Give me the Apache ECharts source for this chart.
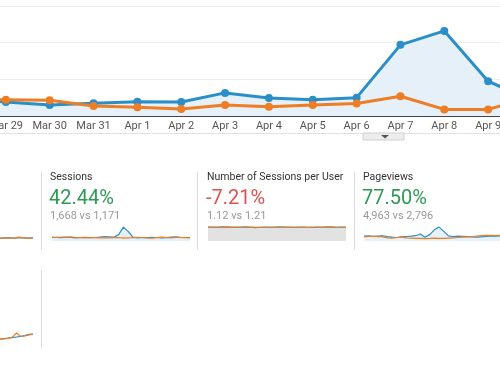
<!DOCTYPE html>
<html><head><meta charset="utf-8">
<script src="https://cdn.jsdelivr.net/npm/echarts@6/dist/echarts.min.js"></script>
<style>html,body{margin:0;padding:0;background:#fff}#c{width:500px;height:383px}</style>
</head><body><div id="c"></div>
<script>
// Main chart
const days = ['Mar 28','Mar 29','Mar 30','Mar 31','Apr 1','Apr 2','Apr 3','Apr 4','Apr 5','Apr 6','Apr 7','Apr 8','Apr 9','Apr 10'];
const currentSeries = [49,38,30,35,39,38,63,49,44,50,194,232,95,41];
const previousSeries = [44,44,43,27,24,19,30,25,30,34,54,18,18,52];

// Scorecards
const cardTitles = ['Sessions','Number of Sessions per User','Pageviews'];
const cardChanges = ['42.44%','-7.21%','77.50%'];
const cardCompare = ['1,668 vs 1,171','1.12 vs 1.21','4,963 vs 2,796'];

// Sparklines
const sessBlue = [22,23,21,24,22,20,22,23,21,22,24,28,26,24,40,87,60,24,20,22,21,23,22,20,21,24,26,23,22,22];
const sessOrange = [24,22,25,23,26,22,21,20,22,21,20,19,20,21,22,18,20,21,23,22,19,18,21,24,22,20,23,22,21,20];
const spuBlue = [86,87,85,88,87,86,85,87,88,86,84,86,87,85,86,88,87,86,85,86,87,86,85,87,86,88,87,86,87,86];
const spuOrange = [88,86,87,86,88,87,87,86,86,87,86,85,86,86,87,86,86,87,86,87,86,85,86,86,87,86,88,86,86,87];
const pvBlue = [30,32,28,31,33,27,24,22,26,28,30,33,44,24,40,70,87,60,32,28,30,29,27,25,24,26,28,30,31,32];
const pvOrange = [26,28,30,27,25,20,18,22,24,20,18,16,17,15,16,18,17,16,18,20,22,24,26,28,30,33,35,36,34,35];
const c1Blue = [18,20,19,18,20,19,18,21];
const c1Orange = [16,18,20,17,24,19,16,19];
const lowBlue = [15,17,20,22,25,28,32,38,40];
const lowOrange = [14,16,18,24,45,28,30,36,38];

const BLUE = '#2a8fc8', ORANGE = '#ee7d23';
const FONT = 'Roboto, Arial, sans-serif';

const grids = [], xAxes = [], yAxes = [], series = [];
function addSpark(idx, box, blue, orange, blueArea) {
  grids.push({left: box[0], top: box[1], width: box[2], height: box[3], outerBoundsMode: 'none'});
  const cats = blue.map((_, i) => i);
  xAxes.push({type: 'category', gridIndex: idx, data: cats, boundaryGap: false, show: false});
  yAxes.push({type: 'value', gridIndex: idx, min: 0, max: 100, show: false});
  series.push({type: 'line', xAxisIndex: idx, yAxisIndex: idx, data: orange, symbol: 'none', lineStyle: {color: ORANGE, width: 1.2}, z: 3, silent: true});
  series.push({type: 'line', xAxisIndex: idx, yAxisIndex: idx, data: blue, symbol: 'none', lineStyle: {color: BLUE, width: 1.2}, areaStyle: {color: blueArea, opacity: 1}, z: 2, silent: true});
}

// main grid
grids.push({left: -38, right: -32, top: 6, bottom: 267, outerBoundsMode: 'none', containLabel: false});
xAxes.push({type: 'category', gridIndex: 0, data: days, boundaryGap: false,
  axisLine: {lineStyle: {color: '#444', width: 1}}, axisTick: {show: false},
  axisLabel: {color: '#555', fontSize: 11, fontFamily: FONT, margin: 5, interval: 0, hideOverlap: false}});
yAxes.push({type: 'value', gridIndex: 0, min: 0, max: 300, interval: 100,
  axisLabel: {show: false}, axisLine: {show: false}, axisTick: {show: false},
  splitLine: {lineStyle: {color: '#ececec'}}});
series.push({type: 'line', xAxisIndex: 0, yAxisIndex: 0, data: currentSeries, symbol: 'circle', symbolSize: 8,
  itemStyle: {color: BLUE}, lineStyle: {color: BLUE, width: 3}, areaStyle: {color: '#e5f0f8', opacity: 1}, z: 3});
series.push({type: 'line', xAxisIndex: 0, yAxisIndex: 0, data: previousSeries, symbol: 'circle', symbolSize: 8,
  itemStyle: {color: ORANGE}, lineStyle: {color: ORANGE, width: 3}, z: 4});

addSpark(1, [0, 225, 33, 16], c1Blue, c1Orange, 'rgba(0,0,0,0)');
addSpark(2, [52, 225, 138, 16], sessBlue, sessOrange, '#e3f0f8');
addSpark(3, [208, 225, 138, 16], spuBlue, spuOrange, '#e2e2e2');
addSpark(4, [364, 225, 136, 16], pvBlue, pvOrange, '#e6f1f9');
addSpark(5, [0, 322, 33, 20], lowBlue, lowOrange, 'rgba(0,0,0,0)');

const graphic = [
  {type: 'line', shape: {x1: 0, y1: 133.5, x2: 500, y2: 133.5}, style: {stroke: '#e2e2e2', lineWidth: 1}},
  {type: 'rect', shape: {x: 363, y: 133, width: 41, height: 7}, style: {fill: '#ededed', stroke: '#d0d0d0', lineWidth: 1}},
  {type: 'polygon', shape: {points: [[381, 135], [389, 135], [385, 138.5]]}, style: {fill: '#555'}},
  {type: 'line', shape: {x1: 41.5, y1: 172, x2: 41.5, y2: 250}, style: {stroke: '#dcdcdc', lineWidth: 1}},
  {type: 'line', shape: {x1: 197.5, y1: 172, x2: 197.5, y2: 250}, style: {stroke: '#dcdcdc', lineWidth: 1}},
  {type: 'line', shape: {x1: 354.5, y1: 172, x2: 354.5, y2: 250}, style: {stroke: '#dcdcdc', lineWidth: 1}},
  {type: 'line', shape: {x1: 41.5, y1: 270, x2: 41.5, y2: 348}, style: {stroke: '#dcdcdc', lineWidth: 1}}
];
const cardX = [50, 207, 363];
const changeColors = ['#2e9a55', '#d9534f', '#2e9a55'];
cardTitles.forEach((t, i) => {
  graphic.push({type: 'text', style: {x: cardX[i], y: 177, text: t, font: '10.5px ' + FONT, fill: '#333', verticalAlign: 'middle'}});
  graphic.push({type: 'text', style: {x: cardX[i] - 1, y: 199, text: cardChanges[i], font: '20px ' + FONT, fill: changeColors[i], verticalAlign: 'middle'}});
  graphic.push({type: 'text', style: {x: cardX[i], y: 216, text: cardCompare[i], font: '11px ' + FONT, fill: '#999', verticalAlign: 'middle'}});
});

const chart = echarts.init(document.getElementById('c'), null, {renderer: 'canvas'});
chart.setOption({animation: false, grid: grids, xAxis: xAxes, yAxis: yAxes, series: series, graphic: graphic});
</script></body></html>
